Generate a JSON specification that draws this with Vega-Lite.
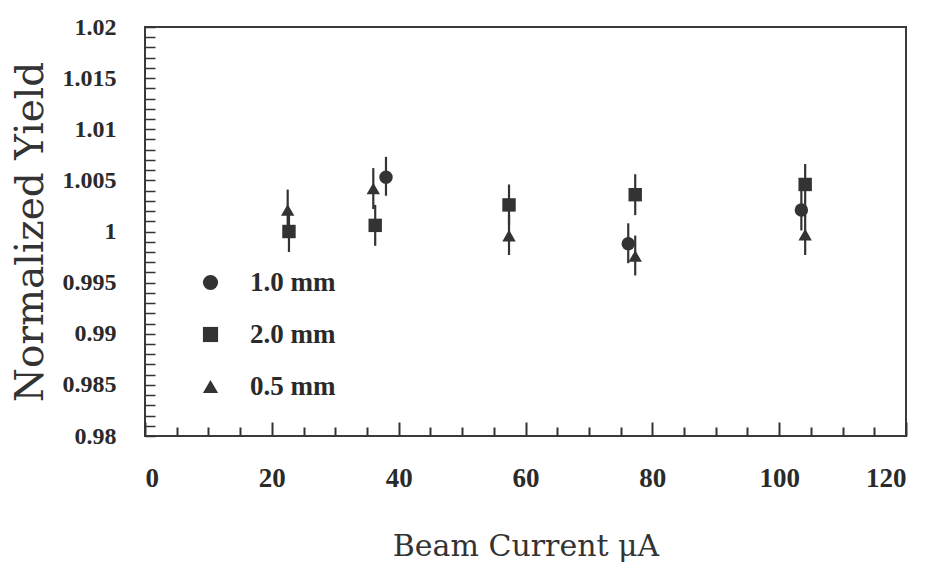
{
  "$schema": "https://vega.github.io/schema/vega-lite/v6.json",
  "width": 761,
  "height": 409,
  "autosize": {"type": "none"},
  "padding": {"left": 145, "top": 27, "right": 23, "bottom": 126},
  "background": "white",
  "config": {
    "view": {"stroke": "#3a3a3a", "strokeWidth": 2},
    "font": "Liberation Serif"
  },
  "data": {
    "values": [
      {"current": 38.0, "yield": 1.0053, "lo": 1.0035, "hi": 1.0073, "size": "1.0 mm"},
      {"current": 76.2, "yield": 0.9988, "lo": 0.9969, "hi": 1.0008, "size": "1.0 mm"},
      {"current": 103.5, "yield": 1.0021, "lo": 1.0001, "hi": 1.0041, "size": "1.0 mm"},
      {"current": 22.7, "yield": 1.0000, "lo": 0.9980, "hi": 1.0020, "size": "2.0 mm"},
      {"current": 36.3, "yield": 1.0006, "lo": 0.9986, "hi": 1.0026, "size": "2.0 mm"},
      {"current": 57.4, "yield": 1.0026, "lo": 1.0006, "hi": 1.0046, "size": "2.0 mm"},
      {"current": 77.3, "yield": 1.0036, "lo": 1.0016, "hi": 1.0056, "size": "2.0 mm"},
      {"current": 104.1, "yield": 1.0046, "lo": 1.0026, "hi": 1.0066, "size": "2.0 mm"},
      {"current": 22.5, "yield": 1.0021, "lo": 1.0001, "hi": 1.0041, "size": "0.5 mm"},
      {"current": 36.0, "yield": 1.0042, "lo": 1.0022, "hi": 1.0062, "size": "0.5 mm"},
      {"current": 57.4, "yield": 0.9996, "lo": 0.9977, "hi": 1.0016, "size": "0.5 mm"},
      {"current": 77.3, "yield": 0.9976, "lo": 0.9957, "hi": 0.9996, "size": "0.5 mm"},
      {"current": 104.1, "yield": 0.9997, "lo": 0.9977, "hi": 1.0017, "size": "0.5 mm"}
    ]
  },
  "layer": [
    {
      "mark": {"type": "rule", "color": "#333", "strokeWidth": 2.2},
      "encoding": {
        "x": {
          "field": "current", "type": "quantitative",
          "scale": {"domain": [0, 120], "nice": false, "zero": false},
          "axis": {
            "orient": "bottom", "offset": 0,
            "values": [0, 20, 40, 60, 80, 100, 120],
            "tickSize": -14, "tickWidth": 2, "tickColor": "#333",
            "domain": false, "grid": false, "labelOverlap": false,
            "labelPadding": 43,
            "labelFont": "Liberation Serif", "labelFontWeight": "bold", "labelFontSize": 27, "labelColor": "#2a2a2a",
            "title": "Beam Current μA", "titleFont": "DejaVu Serif", "titleFontWeight": "normal",
            "titleFontSize": 30, "titleColor": "#333", "titlePadding": 40
          }
        },
        "y": {
          "field": "lo", "type": "quantitative",
          "scale": {"domain": [0.98, 1.02], "nice": false, "zero": false},
          "axis": {
            "orient": "left", "offset": 0,
            "values": [0.98,0.981,0.982,0.983,0.984,0.985,0.986,0.987,0.988,0.989,0.99,0.991,0.992,0.993,0.994,0.995,0.996,0.997,0.998,0.999,1,1.001,1.002,1.003,1.004,1.005,1.006,1.007,1.008,1.009,1.01,1.011,1.012,1.013,1.014,1.015,1.016,1.017,1.018,1.019,1.02],
            "labelExpr": "round(datum.value*1000) % 5 == 0 ? format(datum.value, '~g') : ''",
            "labelOverlap": false,
            "tickSize": -10, "tickWidth": 1.5, "tickColor": "#333",
            "domain": false, "grid": false,
            "labelPadding": 39,
            "labelFont": "Liberation Serif", "labelFontWeight": "bold", "labelFontSize": 24, "labelColor": "#2a2a2a",
            "title": "Normalized Yield", "titleFont": "DejaVu Serif", "titleFontWeight": "normal",
            "titleFontSize": 39, "titleColor": "#333", "titlePadding": 12
          }
        },
        "y2": {"field": "hi"}
      }
    },
    {
      "mark": {"type": "tick", "color": "#333", "size": 8, "thickness": 1.5, "opacity": 0},
      "encoding": {
        "x": {
          "datum": 5, "type": "quantitative",
          "axis": {
            "orient": "bottom", "offset": 0,
            "values": [5,10,15,25,30,35,45,50,55,65,70,75,85,90,95,105,110,115],
            "tickSize": -9, "tickWidth": 2, "tickColor": "#333",
            "labels": false, "domain": false, "grid": false, "title": null
          }
        }
      }
    },
    {
      "mark": {"type": "point", "filled": true, "color": "#333", "opacity": 1},
      "encoding": {
        "x": {"field": "current", "type": "quantitative", "axis": null},
        "y": {"field": "yield", "type": "quantitative", "axis": null},
        "shape": {
          "field": "size", "type": "nominal",
          "scale": {"domain": ["1.0 mm", "2.0 mm", "0.5 mm"], "range": ["circle", "square", "triangle-up"]},
          "legend": {
            "orient": "none", "legendX": 52, "legendY": 242,
            "title": null,
            "symbolSize": 230, "symbolFillColor": "#333", "symbolStrokeColor": "#333", "symbolStrokeWidth": 0,
            "labelFont": "Liberation Serif", "labelFontWeight": "bold", "labelFontSize": 27, "labelColor": "#2a2a2a",
            "labelOffset": 26, "rowPadding": 24
          }
        },
        "size": {"value": 180}
      }
    }
  ],
  "resolve": {"axis": {"x": "independent", "y": "independent"}}
}
